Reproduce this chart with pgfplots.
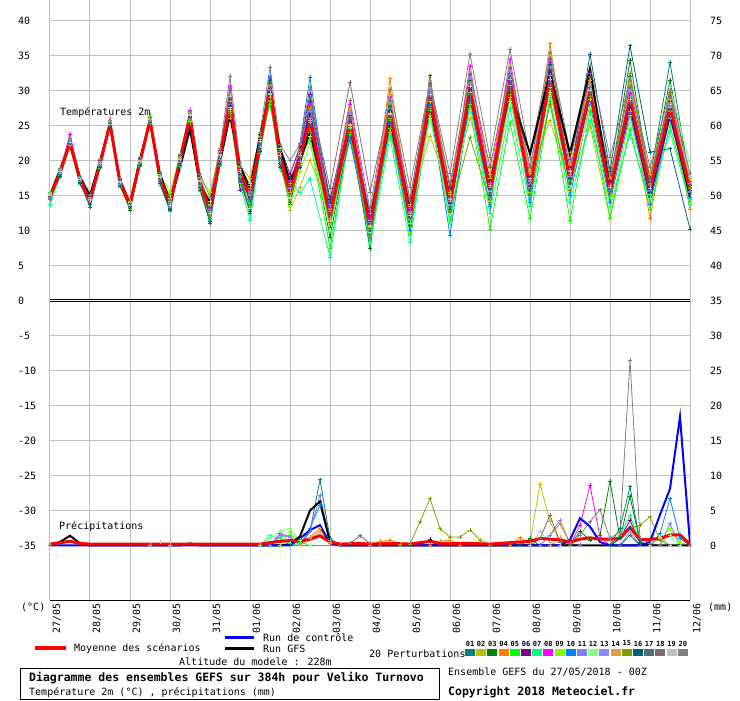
\documentclass[border=0pt]{standalone}
\usepackage{pgfplots}
\pgfplotsset{compat=1.18}
\usepackage{pgfplotstable}
\usepackage{fontspec}
\setmainfont{DejaVu Sans Mono}

\definecolor{gridc}{HTML}{C0C0C0}
\definecolor{e01}{HTML}{008080}
\definecolor{e02}{HTML}{C0C000}
\definecolor{e03}{HTML}{008000}
\definecolor{e04}{HTML}{FF8000}
\definecolor{e05}{HTML}{00FF00}
\definecolor{e06}{HTML}{800080}
\definecolor{e07}{HTML}{00FF80}
\definecolor{e08}{HTML}{FF00FF}
\definecolor{e09}{HTML}{80FF00}
\definecolor{e10}{HTML}{0080FF}
\definecolor{e11}{HTML}{8080FF}
\definecolor{e12}{HTML}{80FF80}
\definecolor{e13}{HTML}{8888FF}
\definecolor{e14}{HTML}{E0A040}
\definecolor{e15}{HTML}{80A000}
\definecolor{e16}{HTML}{006080}
\definecolor{e17}{HTML}{507078}
\definecolor{e18}{HTML}{806870}
\definecolor{e19}{HTML}{C0C0C0}
\definecolor{e20}{HTML}{808080}

\pgfplotsset{
  pert/.style={line width=0.8pt, mark=+, mark size=2pt, mark options={solid, line width=0.7pt}},
  rain/.style={y filter/.expression={y-35}},
}

% 2 m temperature (degC): control, GFS, perturbations 01-20
\pgfplotstableread{
t c g p1 p2 p3 p4 p5 p6 p7 p8 p9 p10 p11 p12 p13 p14 p15 p16 p17 p18 p19 p20
0 14.9 15.0 14.6 15.2 14.9 14.7 15.5 14.8 13.7 14.5 15.3 14.9 14.6 15.0 14.4 14.8 15.1 14.7 14.9 14.5 15.2 14.8
0.25 18.3 18.7 18.0 18.7 18.1 18.6 18.3 18.8 17.7 18.5 18.7 18.2 18.4 18.6 18.1 18.5 17.9 17.8 18.3 18.6 18.4 18.9
0.5 22.6 22.3 22.4 22.8 22.5 23.0 22.2 22.7 22.1 23.8 22.5 22.9 22.3 22.6 22.4 22.2 22.8 22.5 22.7 22.3 22.6 23.2
0.75 17.2 17.6 16.9 17.6 17.0 17.5 17.2 17.7 16.6 17.4 17.6 17.1 17.3 17.5 17.0 17.4 16.8 16.7 17.2 17.5 17.3 17.8
1 14.4 15.0 13.3 14.6 14.2 14.5 14.1 14.8 14.3 14.0 14.6 14.2 14.4 14.7 14.1 14.5 14.3 13.8 14.2 14.6 14.4 15.2
1.25 19.5 19.9 19.2 19.9 19.3 19.8 19.5 20.0 18.9 19.7 19.9 19.4 19.6 19.8 19.3 19.7 19.1 19.0 19.5 19.8 19.6 20.1
1.5 25.2 25.0 25.1 25.4 25.3 25.8 25.2 25.5 25.0 25.3 25.6 25.1 25.4 25.2 25.3 25.5 25.0 24.8 25.4 25.3 25.6 25.7
1.75 16.8 17.2 16.5 17.2 16.6 17.1 16.8 17.3 16.2 17.0 17.2 16.7 16.9 17.1 16.6 17.0 16.4 16.3 16.8 17.1 16.9 17.4
2 13.6 13.9 13.2 13.8 12.9 13.7 14.1 13.6 13.9 13.5 14.0 13.4 13.8 14.2 13.6 13.7 13.3 13.5 13.9 13.8 13.6 13.7
2.25 19.8 20.2 19.5 20.2 19.6 20.1 19.8 20.3 19.2 20.0 20.2 19.7 19.9 20.1 19.6 20.0 19.4 19.3 19.8 20.1 19.9 20.4
2.5 25.7 25.5 25.6 25.9 25.8 26.1 25.4 26.0 25.3 25.8 26.3 25.7 25.5 25.9 25.6 26.0 25.8 25.5 25.7 26.2 25.9 26.1
2.75 17.4 18.0 17.0 18.0 17.1 17.9 17.4 18.2 16.5 17.7 18.0 17.3 17.6 17.9 17.1 17.7 16.8 16.7 17.4 17.9 17.6 18.3
3 13.5 14.2 13.2 14.5 13.0 14.0 15.0 13.6 12.8 14.2 15.5 13.4 13.9 14.6 13.7 14.1 13.3 12.9 13.8 14.3 13.6 14.4
3.25 20.0 19.0 19.6 20.6 19.7 20.5 20.0 20.8 19.1 20.3 20.6 19.9 20.2 20.5 19.7 20.3 19.4 19.3 20.0 20.5 20.2 20.9
3.5 26.0 24.5 26.2 25.6 26.8 26.5 25.8 26.3 25.4 27.2 26.0 26.4 25.9 26.6 26.1 26.9 25.5 26.2 26.7 26.0 26.5 27.0
3.75 16.8 16.5 16.2 17.6 16.4 17.4 16.8 17.8 15.6 17.2 17.6 16.6 17.0 17.4 16.4 17.2 16.0 15.8 16.8 17.4 17.0 18.0
4 12.6 14.0 11.8 13.5 11.0 12.9 13.8 12.4 11.5 13.2 15.5 12.2 13.0 14.2 12.7 13.6 12.0 11.3 12.9 13.4 12.5 14.8
4.25 20.5 19.8 19.9 21.3 20.1 21.1 20.5 21.5 19.3 20.9 21.3 20.3 20.7 21.1 20.1 20.9 19.7 19.5 20.5 21.1 20.7 21.7
4.5 27.8 26.5 27.5 26.0 28.8 29.5 27.0 28.3 26.8 30.6 27.3 29.0 28.0 27.6 29.8 28.5 26.4 27.9 28.9 30.0 29.2 32.0
4.75 18.2 19.2 17.5 19.2 17.7 19.0 18.2 15.8 16.7 18.7 19.2 18.0 18.5 19.0 17.7 18.7 17.2 17.0 18.2 19.0 18.5 19.7
5 14.6 16.0 13.8 17.5 12.5 15.2 14.0 16.2 11.5 15.8 16.5 14.2 15.5 13.2 15.0 16.0 13.5 12.8 15.3 14.6 16.8 15.6
5.25 22.5 23.5 21.8 23.5 22.0 23.3 22.5 23.8 21.0 23.0 23.5 22.3 22.8 23.3 22.0 23.0 21.5 21.3 22.5 23.3 22.8 24.0
5.5 30.8 29.5 30.0 28.4 31.2 30.6 28.0 29.8 29.0 31.8 30.4 32.0 30.2 29.4 31.0 30.8 28.6 31.5 30.5 31.0 29.6 33.3
5.75 20.5 21.7 19.6 21.7 19.9 21.4 20.5 22.0 18.7 21.1 21.7 20.2 20.8 21.4 19.9 21.1 19.3 19.0 20.5 21.4 20.8 22.3
6 15.8 17.0 14.0 12.9 13.8 16.5 15.2 18.0 16.8 17.2 13.5 15.0 16.2 14.6 16.0 15.5 14.5 17.6 15.0 16.4 14.8 20.0
6.25 20.8 20.0 19.6 16.2 19.9 21.4 20.5 22.0 15.4 21.1 18.5 22.5 20.8 21.4 19.9 21.1 19.3 19.0 20.5 21.4 20.8 22.3
6.5 26.5 24.0 25.0 20.0 24.2 27.5 23.0 29.5 17.4 28.0 22.5 31.9 26.0 23.5 27.0 25.5 24.0 28.5 26.2 29.0 25.8 30.5
7 12.0 12.5 10.5 13.0 9.0 12.8 7.5 14.5 6.2 13.5 11.0 12.2 13.8 10.0 12.5 11.8 11.2 14.0 12.4 16.0 11.5 13.2
7.5 25.5 24.8 23.5 25.0 24.2 27.0 23.8 26.5 24.6 28.0 25.2 22.9 26.0 24.8 26.8 27.5 24.0 25.6 26.2 31.2 25.0 28.6
8 10.8 11.5 9.5 11.5 7.4 10.2 8.5 12.0 8.0 11.8 10.6 9.0 12.5 9.8 11.2 10.4 9.2 11.0 10.0 15.5 10.8 13.0
8.5 26.5 25.8 25.5 24.0 27.8 31.7 24.6 27.0 23.3 29.0 26.0 25.2 27.4 26.6 28.2 29.5 25.8 27.2 26.4 28.6 26.8 30.2
9 12.2 13.0 11.2 13.5 10.8 12.6 9.5 14.0 8.3 13.2 11.6 10.0 12.8 11.0 12.4 13.8 10.6 12.0 11.8 14.5 12.2 16.2
9.5 28.6 28.0 28.0 23.5 32.1 30.5 26.5 29.5 27.2 31.0 28.4 27.8 29.8 26.0 30.2 31.5 27.5 29.0 28.8 30.8 29.4 31.2
10 13.5 14.5 12.8 15.5 13.0 14.2 11.5 16.0 11.0 14.8 13.6 9.3 14.6 12.4 13.8 15.2 12.6 14.0 13.4 16.5 14.4 18.1
10.5 30.0 29.5 28.5 26.0 31.5 32.0 27.5 30.5 28.0 33.5 29.8 28.8 31.0 27.2 31.8 32.8 23.3 30.2 29.4 32.4 30.6 35.2
11 15.4 16.5 14.5 17.5 15.0 16.2 10.2 17.0 12.5 16.5 15.6 13.4 16.8 14.2 15.8 18.0 14.0 16.0 15.2 19.0 16.4 20.4
11.5 31.5 30.0 30.0 29.0 32.5 33.0 25.5 31.5 27.5 34.5 30.8 31.0 32.2 28.5 32.8 33.5 29.5 31.8 30.4 33.2 31.6 35.9
12 16.0 21.0 15.0 18.5 16.5 17.0 11.7 17.8 13.5 16.8 16.2 14.0 17.2 15.4 16.6 18.2 15.2 16.4 15.8 19.0 17.4 20.4
12.5 32.0 32.5 31.0 25.7 33.0 36.7 28.5 32.5 29.0 34.0 30.5 31.2 33.4 29.8 32.2 35.0 28.0 33.8 30.8 34.6 31.6 35.5
13 17.0 21.0 16.5 16.4 18.2 18.0 11.4 19.0 14.0 17.6 17.2 15.0 18.6 16.0 17.8 19.5 15.8 17.4 16.8 20.2 18.4 21.2
13.5 29.5 33.0 30.5 25.0 31.8 31.0 27.0 29.0 25.5 32.5 28.8 28.0 30.2 27.6 30.8 31.5 29.2 35.2 29.6 32.0 30.0 33.6
14 15.2 16.0 16.0 11.7 16.8 15.0 11.8 17.0 13.5 16.2 14.8 14.0 15.8 13.2 16.5 17.5 15.4 18.5 15.6 18.0 16.2 20.5
14.5 28.0 28.0 32.0 26.5 34.3 28.5 24.5 27.5 23.8 29.5 27.0 26.8 29.2 25.6 30.0 31.0 32.5 36.4 28.2 30.5 28.8 31.5
15 15.0 15.0 17.5 14.0 17.0 11.7 13.0 16.0 14.2 16.4 15.2 13.8 16.6 14.6 15.8 18.0 16.8 21.2 15.6 17.2 16.0 19.0
15.5 26.5 27.0 34.0 26.0 31.5 27.0 25.0 28.5 24.2 29.8 27.6 26.2 28.2 30.5 27.8 28.8 29.5 21.7 27.2 29.0 28.0 30.0
16 15.5 14.8 17.0 14.5 16.5 13.0 14.2 15.8 13.8 16.2 16.8 14.8 15.4 19.5 15.6 17.4 16.0 10.2 15.2 16.6 17.8 18.2
}\temps

\begin{document}
\begin{tikzpicture}
\path (0pt,0pt) rectangle (740pt,700pt);

\begin{axis}[
  at={(50pt,100pt)}, anchor=south west,
  width=640pt, height=600pt, scale only axis,
  xmin=0, xmax=16, ymin=-42.857, ymax=42.857,
  axis x line*=bottom, axis y line*=left,
  x axis line style={black, line width=1pt, -},
  y axis line style={draw=none},
  xtick={0,...,16},
  xticklabels={27/05,28/05,29/05,30/05,31/05,01/06,02/06,03/06,04/06,05/06,06/06,07/06,08/06,09/06,10/06,11/06,12/06},
  ytick={-35,-30,...,40},
  yticklabels={-35,-30,-25,-20,-15,-10,-5,0,5,10,15,20,25,30,35,40},
  major tick length=0pt,
  grid=major,
  major grid style={gridc, line width=1pt},
  xticklabel style={xshift=7pt, yshift=-3pt, rotate=90, anchor=east, inner sep=0pt},
  yticklabel style={anchor=west, inner sep=0pt, xshift=-32pt},
]
% temperatures
\addplot[pert, e01] table[x=t, y=p1] {\temps};
\addplot[pert, e02] table[x=t, y=p2] {\temps};
\addplot[pert, e03] table[x=t, y=p3] {\temps};
\addplot[pert, e04] table[x=t, y=p4] {\temps};
\addplot[pert, e05] table[x=t, y=p5] {\temps};
\addplot[pert, e06] table[x=t, y=p6] {\temps};
\addplot[pert, e07] table[x=t, y=p7] {\temps};
\addplot[pert, e08] table[x=t, y=p8] {\temps};
\addplot[pert, e09] table[x=t, y=p9] {\temps};
\addplot[pert, e10] table[x=t, y=p10] {\temps};
\addplot[pert, e11] table[x=t, y=p11] {\temps};
\addplot[pert, e12] table[x=t, y=p12] {\temps};
\addplot[pert, e13] table[x=t, y=p13] {\temps};
\addplot[pert, e14] table[x=t, y=p14] {\temps};
\addplot[pert, e15] table[x=t, y=p15] {\temps};
\addplot[pert, e16] table[x=t, y=p16] {\temps};
\addplot[pert, e17] table[x=t, y=p17] {\temps};
\addplot[pert, e18] table[x=t, y=p18] {\temps};
\addplot[pert, e19] table[x=t, y=p19] {\temps};
\addplot[pert, e20] table[x=t, y=p20] {\temps};
\addplot[black, line width=2pt] table[x=t, y=g] {\temps};
\addplot[blue, line width=2pt] table[x=t, y=c] {\temps};
\addplot[red, line width=3pt] coordinates {
 (0,14.8) (0.25,18.3) (0.5,22.5) (0.75,17.2) (1,14.3) (1.25,19.5) (1.5,25.3) (1.75,16.8)
 (2,13.7) (2.25,19.8) (2.5,25.8) (2.75,17.4) (3,13.8) (3.25,20.0) (3.5,26.3) (3.75,16.8)
 (4,12.9) (4.25,20.5) (4.5,28.2) (4.75,18.2) (5,15.0) (5.25,22.5) (5.5,30.4) (5.75,20.5)
 (6,15.5) (6.25,20.5) (6.5,25.7) (7,11.9) (7.5,25.7) (8,10.5) (8.5,26.9) (9,11.9)
 (9.5,29.0) (10,13.8) (10.5,30.2) (11,15.7) (11.5,31.2) (12,16.2) (12.5,31.7) (13,17.4)
 (13.5,29.8) (14,15.5) (14.5,28.8) (15,15.7) (15.5,27.6) (16,15.7)};

% precipitation (mm), drawn from the -35 line
\addplot[pert, rain, e01] coordinates {(0,0) (6.25,0) (6.5,2.0) (6.75,9.4) (7,1.0) (7.25,0) (14,0) (14.25,2.5) (14.5,8.4) (14.75,0.5) (15,0) (16,0)};
\addplot[pert, rain, e02] coordinates {(0,0) (11.75,0) (12,0.3) (12.25,8.8) (12.5,3.4) (12.75,0.5) (13,0) (16,0)};
\addplot[pert, rain, e03] coordinates {(0,0) (11.75,0) (12,1.0) (12.25,0) (13,0) (13.25,2.0) (13.5,0.8) (13.75,1.5) (14,9.2) (14.25,1.0) (14.5,7.0) (14.75,0.5) (15,0) (16,0)};
\addplot[pert, rain, e04] coordinates {(0,0) (6.25,0) (6.5,1.2) (6.75,2.4) (7,0.3) (8,0) (8.25,0.6) (8.5,0.8) (8.75,0.2) (9.5,0) (9.75,0.6) (10,0.8) (10.25,0) (11.5,0) (11.75,1.1) (12,0.3) (12.25,0) (12.5,1.5) (12.75,3.1) (13,0.3) (13.25,0) (16,0)};
\addplot[pert, rain, e05] coordinates {(0,0) (5.5,0) (5.75,1.2) (6,1.5) (6.25,0.5) (6.5,0) (14.25,0) (14.5,1.5) (14.75,0) (16,0)};
\addplot[pert, rain, e06] coordinates {(0,0) (9.25,0) (9.5,0.9) (9.75,0) (14,0) (14.25,1.0) (14.5,3.6) (14.75,0.3) (15,0) (16,0)};
\addplot[pert, rain, e07] coordinates {(0,0) (5.25,0) (5.5,1.4) (5.75,1.0) (6,0.3) (6.25,0) (14,0) (14.25,1.5) (14.5,4.3) (14.75,0.5) (15,0) (16,0)};
\addplot[pert, rain, e08] coordinates {(0,0) (5.5,0) (5.75,1.7) (6,1.2) (6.25,0) (13,0) (13.25,2.9) (13.5,8.6) (13.75,1.2) (14,0) (16,0)};
\addplot[pert, rain, e09] coordinates {(0,0) (5.75,0) (6,2.0) (6.25,0.8) (6.5,0) (15,0) (15.25,1.0) (15.5,2.4) (15.75,0.5) (16,0)};
\addplot[pert, rain, e10] coordinates {(0,0) (6.25,0) (6.5,2.5) (6.75,5.8) (7,0.5) (7.25,0) (15,0) (15.25,1.7) (15.5,6.7) (15.75,1.0) (16,0)};
\addplot[pert, rain, e11] coordinates {(0,0) (6.25,0) (6.5,2.0) (6.75,7.2) (7,0.8) (7.25,0) (12.25,0) (12.5,1.5) (12.75,3.6) (13,0.3) (13.25,0) (15.25,0) (15.5,3.1) (15.75,0) (16,0)};
\addplot[pert, rain, e12] coordinates {(0,0) (5.25,0) (5.5,1.0) (5.75,2.0) (6,2.4) (6.25,0.8) (6.5,0) (15.25,0) (15.5,1.5) (15.75,0) (16,0)};
\addplot[pert, rain, e13] coordinates {(0,0) (5.5,0) (5.75,1.5) (6,1.2) (6.25,0) (14.25,0) (14.5,2.0) (14.75,0) (16,0)};
\addplot[pert, rain, e14] coordinates {(0,0) (6.25,0) (6.5,1.0) (6.75,2.0) (7,0.5) (7.25,0) (12.5,0) (12.75,1.2) (13,0) (16,0)};
\addplot[pert, rain, e15] coordinates {(0,0) (8.75,0) (9,0.2) (9.25,3.4) (9.5,6.7) (9.75,2.4) (10,1.2) (10.25,1.2) (10.5,2.2) (10.75,0.8) (11,0) (14,0) (14.25,1.5) (14.5,2.5) (14.75,2.9) (15,4.1) (15.25,0.8) (15.5,0) (16,0)};
\addplot[pert, rain, e16] coordinates {(0,0) (14,0) (14.25,1.0) (14.5,2.5) (14.75,0.5) (15,0) (16,0)};
\addplot[pert, rain, e17] coordinates {(0,0) (14.25,0) (14.5,1.5) (14.75,0) (16,0)};
\addplot[pert, rain, e18] coordinates {(0,0) (7.25,0) (7.5,0.3) (7.75,1.4) (8,0.3) (8.25,0) (12,0) (12.25,1.0) (12.5,4.3) (12.75,0.5) (13,0) (16,0)};
\addplot[pert, rain, e19] coordinates {(0,0) (2.5,0) (2.75,0.5) (3,0) (12,0) (12.25,2.0) (12.5,0.5) (12.75,0) (15,0) (15.25,1.2) (15.5,0) (16,0)};
\addplot[pert, rain, e20] coordinates {(0,0) (13,0) (13.25,1.5) (13.5,3.4) (13.75,5.1) (14,1.0) (14.25,2.0) (14.5,26.5) (14.75,1.0) (15,0.3) (15.25,0) (16,0)};
\addplot[rain, black, line width=2pt] coordinates {(0,0) (0.25,0.5) (0.5,1.4) (0.75,0.3) (1,0) (3.25,0) (3.5,0.3) (3.75,0) (5.75,0) (6,0.2) (6.25,1.3) (6.5,5.0) (6.75,6.3) (7,0.5) (7.25,0) (16,0)};
\addplot[rain, blue, line width=2pt] coordinates {(0,0) (6,0) (6.25,1.0) (6.5,2.2) (6.75,2.9) (7,0.3) (7.25,0) (12.75,0) (13,0.8) (13.25,3.9) (13.5,2.7) (13.75,0.5) (14,0) (14.75,0) (15,0.5) (15.25,4.4) (15.5,8.1) (15.75,18.4) (16,0.3)};
\addplot[rain, red, line width=3pt] coordinates {
 (0,0.2) (0.25,0.4) (0.5,0.6) (0.75,0.3) (1,0.2) (5.25,0.2) (5.5,0.4) (5.75,0.6) (6,0.7)
 (6.25,0.6) (6.5,0.9) (6.75,1.4) (7,0.5) (7.25,0.2) (7.75,0.3) (8,0.2) (8.5,0.3) (9,0.2)
 (9.25,0.4) (9.5,0.6) (9.75,0.3) (10.5,0.3) (11,0.2) (11.5,0.4) (11.75,0.5) (12,0.6)
 (12.25,1.0) (12.5,0.9) (12.75,0.8) (13,0.5) (13.25,0.9) (13.5,1.1) (13.75,0.9) (14,0.9)
 (14.25,1.0) (14.5,2.6) (14.75,0.8) (15,0.9) (15.25,1.0) (15.5,1.5) (15.75,1.5) (16,0.2)};

\draw[black, line width=1pt, double=white, double distance=1pt] (axis cs:0,0) -- (axis cs:16,0);
\node[anchor=west, inner sep=0pt] at (axis cs:0.25,26.86) {Températures 2m};
\node[anchor=west, inner sep=0pt] at (axis cs:0.225,-32.3) {Précipitations};
\end{axis}

% right-hand scale (mm / shifted degrees)
\begin{axis}[
  at={(50pt,100pt)}, anchor=south west,
  width=640pt, height=600pt, scale only axis,
  xmin=0, xmax=16, ymin=-7.857, ymax=77.857,
  axis y line*=right, axis x line=none,
  y axis line style={draw=none},
  ytick={0,5,...,75}, major tick length=0pt,
  yticklabel style={anchor=west, inner sep=0pt, xshift=20pt},
  /pgf/number format/assume math mode=true,
]
\addplot[draw=none] coordinates {(0,0)};
\end{axis}

% units
\node[anchor=west, inner sep=0pt] at (21pt,93pt) {(°C)};
\node[anchor=west, inner sep=0pt] at (708pt,93pt) {(mm)};

% legend
\draw[red, line width=4pt] (35pt,52pt) -- (66pt,52pt);
\node[anchor=west, inner sep=0pt] at (74pt,52pt) {Moyenne des scénarios};
\draw[blue, line width=3pt] (225pt,63pt) -- (254pt,63pt);
\node[anchor=west, inner sep=0pt] at (263pt,63pt) {Run de contrôle};
\draw[black, line width=3pt] (225pt,52pt) -- (254pt,52pt);
\node[anchor=west, inner sep=0pt] at (263pt,52pt) {Run GFS};
\node[anchor=west, inner sep=0pt] at (179pt,39pt) {Altitude du modele : 228m};
\node[anchor=west, inner sep=0pt] at (369pt,47pt) {20 Perturbations};
\foreach \i/\c [count=\n from 0] in {01/e01,02/e02,03/e03,04/e04,05/e05,06/e06,07/e07,08/e08,09/e09,10/e10,11/e11,12/e12,13/e13,14/e14,15/e15,16/e16,17/e17,18/e18,19/e19,20/e20} {
  \fill[\c] ({(465+11.2*\n)*1pt},44pt) rectangle +(10pt,7pt);
  \node[inner sep=0pt, font=\fontsize{7}{8}\selectfont\bfseries] at ({(470+11.2*\n)*1pt},57pt) {\i};
}

% title box
\draw[black, line width=1pt] (20pt,1pt) rectangle (439pt,32pt);
\node[anchor=west, inner sep=0pt, font=\fontsize{11.5}{13}\selectfont\bfseries] at (29pt,22pt) {Diagramme des ensembles GEFS sur 384h pour Veliko Turnovo};
\node[anchor=west, inner sep=0pt] at (29pt,8pt) {Température 2m (°C) , précipitations (mm)};
\node[anchor=west, inner sep=0pt] at (448pt,28pt) {Ensemble GEFS du 27/05/2018 - 00Z};
\node[anchor=west, inner sep=0pt, font=\fontsize{11.5}{13}\selectfont\bfseries] at (448pt,8pt) {Copyright 2018 Meteociel.fr};
\end{tikzpicture}
\end{document}
